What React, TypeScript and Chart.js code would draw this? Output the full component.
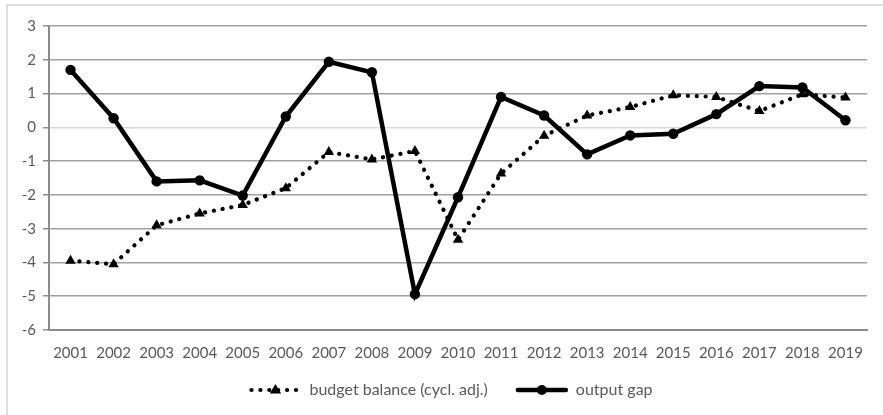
import React, { useEffect, useRef } from "react";
import { Chart, registerables } from "chart.js";
Chart.register(...registerables);

const years = ["2001","2002","2003","2004","2005","2006","2007","2008","2009","2010","2011","2012","2013","2014","2015","2016","2017","2018","2019"];
const budgetBalance = [-3.95, -4.05, -2.9, -2.55, -2.3, -1.8, -0.73, -0.95, -0.7, -3.33, -1.37, -0.25, 0.35, 0.6, 0.95, 0.9, 0.48, 0.98, 0.88];
const outputGap = [1.7, 0.27, -1.6, -1.57, -2.02, 0.32, 1.94, 1.63, -4.94, -2.07, 0.9, 0.35, -0.8, -0.24, -0.19, 0.39, 1.22, 1.18, 0.21];
const seriesNames = ["budget balance (cycl. adj.)", "output gap"];
const yMin = -6;
const yMax = 3;

const FONT = "Lato";
const TEXT = "#595959";
const GRID = "#a0a0a0";
const AXIS = "#8c8c8c";
const DOT_DASH = [0.1, 8.8];
const LEGEND_SHIFT_X = -7;
const LEGEND_SHIFT_Y = -6;

const legendShift = {
  id: "legendShift",
  afterLayout(chart: any) {
    const l = chart.legend;
    if (!l) return;
    l.left += LEGEND_SHIFT_X;
    l.right += LEGEND_SHIFT_X;
    l.top += LEGEND_SHIFT_Y;
    l.bottom += LEGEND_SHIFT_Y;
  },
};

const legendSamples = {
  id: "legendSamples",
  afterDraw(chart: any) {
    const legend = chart.legend;
    if (!legend || !legend.legendHitBoxes) return;
    const ctx = chart.ctx;
    const bw = legend.options.labels.boxWidth;
    legend.legendHitBoxes.forEach((hb: any, i: number) => {
      const y = hb.top + hb.height / 2;
      const x0 = hb.left + 2;
      const x1 = hb.left + bw - 2;
      const xm = (x0 + x1) / 2;
      ctx.save();
      ctx.strokeStyle = "#000";
      ctx.fillStyle = "#000";
      ctx.lineCap = "round";
      if (i === 0) {
        ctx.lineWidth = 4.2;
        ctx.setLineDash(DOT_DASH);
      } else {
        ctx.lineWidth = 4.5;
        ctx.setLineDash([]);
      }
      ctx.beginPath();
      ctx.moveTo(x0, y);
      ctx.lineTo(x1, y);
      ctx.stroke();
      ctx.setLineDash([]);
      ctx.beginPath();
      if (i === 0) {
        const r = 6;
        ctx.moveTo(xm, y - r);
        ctx.lineTo(xm + r * 0.95, y + r * 0.6);
        ctx.lineTo(xm - r * 0.95, y + r * 0.6);
        ctx.closePath();
      } else {
        ctx.arc(xm, y, 5, 0, Math.PI * 2);
      }
      ctx.fill();
      ctx.restore();
    });
  },
};

export default function App() {
  const ref = useRef<HTMLCanvasElement | null>(null);
  useEffect(() => {
    if (!ref.current) return;
    Chart.defaults.font.family = FONT;
    Chart.defaults.color = TEXT;
    const chart = new Chart(ref.current, {
      type: "line",
      data: {
        labels: years,
        datasets: [
          {
            label: seriesNames[0],
            data: budgetBalance,
            borderColor: "#000",
            backgroundColor: "#000",
            borderWidth: 4.2,
            borderDash: DOT_DASH,
            borderCapStyle: "round",
            pointStyle: "triangle",
            pointRadius: 6,
            pointBorderWidth: 0,
            pointBackgroundColor: "#000",
            tension: 0,
          },
          {
            label: seriesNames[1],
            data: outputGap,
            borderColor: "#000",
            backgroundColor: "#000",
            borderWidth: 4.5,
            pointStyle: "circle",
            pointRadius: 5.2,
            pointBorderWidth: 0,
            pointBackgroundColor: "#000",
            tension: 0,
          },
        ],
      },
      options: {
        animation: false,
        responsive: false,
        devicePixelRatio: 1,
        layout: { padding: { left: 0, right: 16, top: 26, bottom: 1 } },
        scales: {
          x: {
            offset: true,
            grid: {
              display: true,
              offset: true,
              drawTicks: false,
              lineWidth: 2,
              color: (c: any) => (c.index === years.length ? AXIS : "rgba(0,0,0,0)"),
            },
            border: { display: true, color: AXIS, width: 2 },
            ticks: { padding: 14, font: { size: 15 }, color: TEXT, maxRotation: 0, autoSkip: false },
            afterFit: (s: any) => { s.height = 30; },
          },
          y: {
            min: yMin,
            max: yMax,
            grid: {
              lineWidth: 1.5,
              color: (c: any) => (c.tick && c.tick.value === 0 ? "#d9d9d9" : GRID),
              tickColor: AXIS,
              tickLength: 6,
              drawTicks: true,
            },
            border: { display: true, color: AXIS, width: 2 },
            ticks: { stepSize: 1, padding: 7, font: { size: 15 }, color: TEXT },
            afterFit: (s: any) => { s.width = 49; },
          },
        },
        plugins: {
          legend: {
            display: true,
            position: "bottom",
            fullSize: false,
            labels: {
              boxWidth: 52,
              boxHeight: 16,
              padding: 28,
              font: { size: 16 },
              color: TEXT,
              generateLabels: (ch: any) =>
                Chart.defaults.plugins.legend.labels.generateLabels(ch).map((l: any) => ({
                  ...l,
                  fillStyle: "rgba(0,0,0,0)",
                  strokeStyle: "rgba(0,0,0,0)",
                  lineWidth: 0,
                })),
            },
          },
          tooltip: { enabled: false },
        },
      },
      plugins: [legendShift, legendSamples],
    });
    return () => chart.destroy();
  }, []);

  return (
    <div style={{ position: "fixed", left: 0, top: 0, width: 883, height: 415, overflow: "hidden", background: "#fff" }}>
      <div style={{ position: "absolute", left: 6, top: 4, width: 900, height: 430, border: "2px solid #dedede", boxSizing: "border-box" }} />
      <canvas ref={ref} width={883} height={415} style={{ position: "absolute", left: 0, top: 0, width: 883, height: 415 }} />
    </div>
  );
}
